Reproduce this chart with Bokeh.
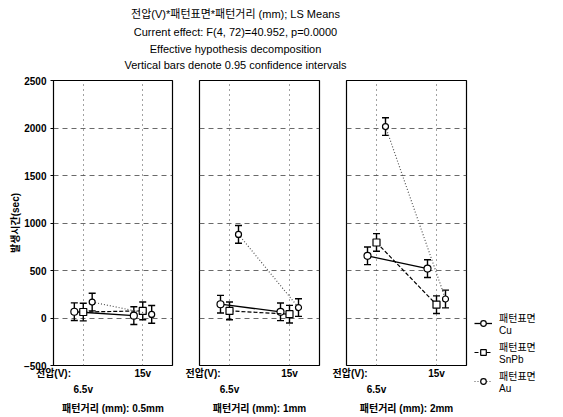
import numpy as np
from bokeh.plotting import figure
from bokeh.models import (ColumnDataSource, Range1d, LinearAxis, Grid, FixedTicker,
                          Label, Legend, LegendItem, Whisker, TeeHead)
from bokeh.layouts import column, row
from bokeh.embed import file_html
from bokeh.resources import INLINE

# ---------------- data ----------------
title_lines = ["전압(V)*패턴표면*패턴거리 (mm); LS Means",
               "Current effect: F(4, 72)=40.952, p=0.0000",
               "Effective hypothesis decomposition",
               "Vertical bars denote 0.95 confidence intervals"]
distances = ["0.5mm", "1mm", "2mm"]
voltages = ["6.5v", "15v"]
voltage_title = "전압(V):"
distance_title = "패턴거리 (mm): "
series_names = ["Cu", "SnPb", "Au"]
cu_means = [[66, 25], [145, 65], [655, 520]]
snpb_means = [[63, 75], [75, 40], [795, 140]]
au_means = [[168, 38], [880, 110], [2015, 200]]
ci_half = [93, 93, 93]
y_ticks = [-500, 0, 500, 1000, 1500, 2000, 2500]
y_label = "발생시간(sec)"
legend_prefix = "패턴표면"

FONT = "'Liberation Sans', 'Noto Sans CJK KR', sans-serif"

styles = {
    "Cu":   dict(marker="circle", dash="solid", color="black", width=1.3, msize=7),
    "SnPb": dict(marker="square", dash="4 2", color="black", width=1.2, msize=7),
    "Au":   dict(marker="circle", dash="1 2", color="#555555", width=1.2, msize=6),
}
offsets = {"Cu": -0.15, "SnPb": 0.0, "Au": 0.15}
all_means = {"Cu": cu_means, "SnPb": snpb_means, "Au": au_means}

# ---------------- title ----------------
tf = figure(width=471, height=74, x_range=(0, 1), y_range=(0, 1),
            x_axis_type=None, y_axis_type=None, toolbar_location=None,
            output_backend="svg", min_border=0, outline_line_color=None)
for txt, yy in zip(title_lines, [61, 43, 26, 10]):
    tf.add_layout(Label(x=235, y=yy, x_units="screen", y_units="screen", text=txt,
                        text_align="center", text_baseline="middle",
                        text_font=FONT, text_font_size="11px", text_color="black"))

# ---------------- panels ----------------
panels = []
borders = [(53, 13), (14, 13), (14, 5)]
frame_ws = [119, 120, 120]
for k, dist in enumerate(distances):
    bl, br = borders[k]
    p = figure(frame_width=frame_ws[k], frame_height=285,
               x_range=Range1d(0, 2), y_range=Range1d(-500, 2500),
               x_axis_type=None, y_axis_type=None, toolbar_location=None,
               output_backend="svg", min_border_left=bl, min_border_right=br,
               min_border_top=6, min_border_bottom=52,
               outline_line_color="black", outline_line_width=1.2,
               background_fill_color="white", border_fill_color="white")
    xbase = np.arange(len(voltages)) + 0.5
    p.add_layout(Grid(dimension=1, ticker=FixedTicker(ticks=y_ticks),
                      grid_line_color="#444444", grid_line_width=0.8,
                      grid_line_dash="5 4"))
    p.add_layout(Grid(dimension=0, ticker=FixedTicker(ticks=list(xbase)),
                      grid_line_color="#444444", grid_line_width=1,
                      grid_line_dash="1 4"))
    if k == 0:
        ax = LinearAxis(ticker=FixedTicker(ticks=y_ticks), axis_label=y_label,
                        axis_label_text_font=FONT, axis_label_text_font_size="10px",
                        axis_label_text_font_style="bold", axis_label_standoff=0,
                        axis_label_text_color="black",
                        major_label_text_font=FONT, major_label_text_font_size="10px",
                        major_label_text_font_style="bold", major_label_text_color="black",
                        major_label_standoff=4, major_tick_in=0, major_tick_out=3,
                        minor_tick_in=0, minor_tick_out=0, axis_line_color="black",
                        major_tick_line_color="black")
        p.add_layout(ax, "left")
    # x axes: first row "전압(V):" at range start and "15v"; second row "6.5v" + distance title
    ax1 = LinearAxis(ticker=FixedTicker(ticks=[0.0, xbase[1]]),
                     major_label_overrides={0.0: voltage_title, float(xbase[1]): voltages[1]},
                     major_label_text_font=FONT, major_label_text_font_size="10px",
                     major_label_text_font_style="bold", major_label_text_color="black",
                     major_label_standoff=2, major_tick_in=0, major_tick_out=0,
                     minor_tick_in=0, minor_tick_out=0, axis_line_color=None,
                     major_tick_line_color=None, minor_tick_line_color=None)
    ax2 = LinearAxis(ticker=FixedTicker(ticks=[xbase[0]]),
                     major_label_overrides={float(xbase[0]): voltages[0]},
                     axis_label=distance_title + dist,
                     axis_label_text_font=FONT, axis_label_text_font_size="10px",
                     axis_label_text_font_style="bold", axis_label_text_color="black",
                     axis_label_standoff=5,
                     major_label_text_font=FONT, major_label_text_font_size="10px",
                     major_label_text_font_style="bold", major_label_text_color="black",
                     major_label_standoff=2, major_tick_in=0, major_tick_out=0,
                     minor_tick_in=0, minor_tick_out=0, axis_line_color=None,
                     major_tick_line_color=None, minor_tick_line_color=None)
    p.add_layout(ax1, "below")
    p.add_layout(ax2, "below")
    for s in series_names:
        st = styles[s]
        m = np.array(all_means[s][k], dtype=float)
        ci = ci_half[series_names.index(s)]
        xs = xbase + offsets[s]
        src = ColumnDataSource(dict(x=xs, y=m, upper=m + ci, lower=m - ci))
        p.line("x", "y", source=src, line_color=st["color"], line_width=st["width"],
               line_dash=st["dash"])
        p.add_layout(Whisker(base="x", upper="upper", lower="lower", source=src,
                             line_color="black", line_width=1.4,
                             upper_head=TeeHead(size=7, line_color="black", line_width=1.4),
                             lower_head=TeeHead(size=7, line_color="black", line_width=1.4)))
        p.scatter("x", "y", source=src, marker=st["marker"], size=st["msize"],
                  fill_color="white", line_color="black", line_width=1.2)
    panels.append(p)

# ---------------- legend figure (proxy renderers: NaN data, nothing plotted) ----------------
left_w = sum(pp.frame_width + pp.min_border_left + pp.min_border_right for pp in panels)
lf = figure(width=563 - left_w, height=417, x_range=Range1d(0, 1), y_range=Range1d(0, 1),
            x_axis_type=None, y_axis_type=None, toolbar_location=None,
            output_backend="svg", min_border=0, outline_line_color=None)
items = []
for s in series_names:
    st = styles[s]
    proxy = ColumnDataSource(dict(x=[np.nan], y=[np.nan]))
    r1 = lf.line("x", "y", source=proxy, line_color=st["color"], line_width=st["width"],
                 line_dash=st["dash"])
    r2 = lf.scatter("x", "y", source=proxy, marker=st["marker"], size=st["msize"],
                    fill_color="white", line_color="black", line_width=1.2)
    items.append(LegendItem(label=legend_prefix + "\n" + s, renderers=[r1, r2]))
legend = Legend(items=items, location=(3, 23), orientation="vertical",
                label_text_font=FONT, label_text_font_size="10px",
                label_text_color="black", label_text_line_height=1.5,
                glyph_width=18, glyph_height=14, label_standoff=7, spacing=3,
                padding=0, margin=0, border_line_color=None,
                background_fill_alpha=0)
lf.add_layout(legend)

layout = row(column(tf, row(*panels)), lf)
open("out.html", "w").write(file_html(layout, INLINE))
